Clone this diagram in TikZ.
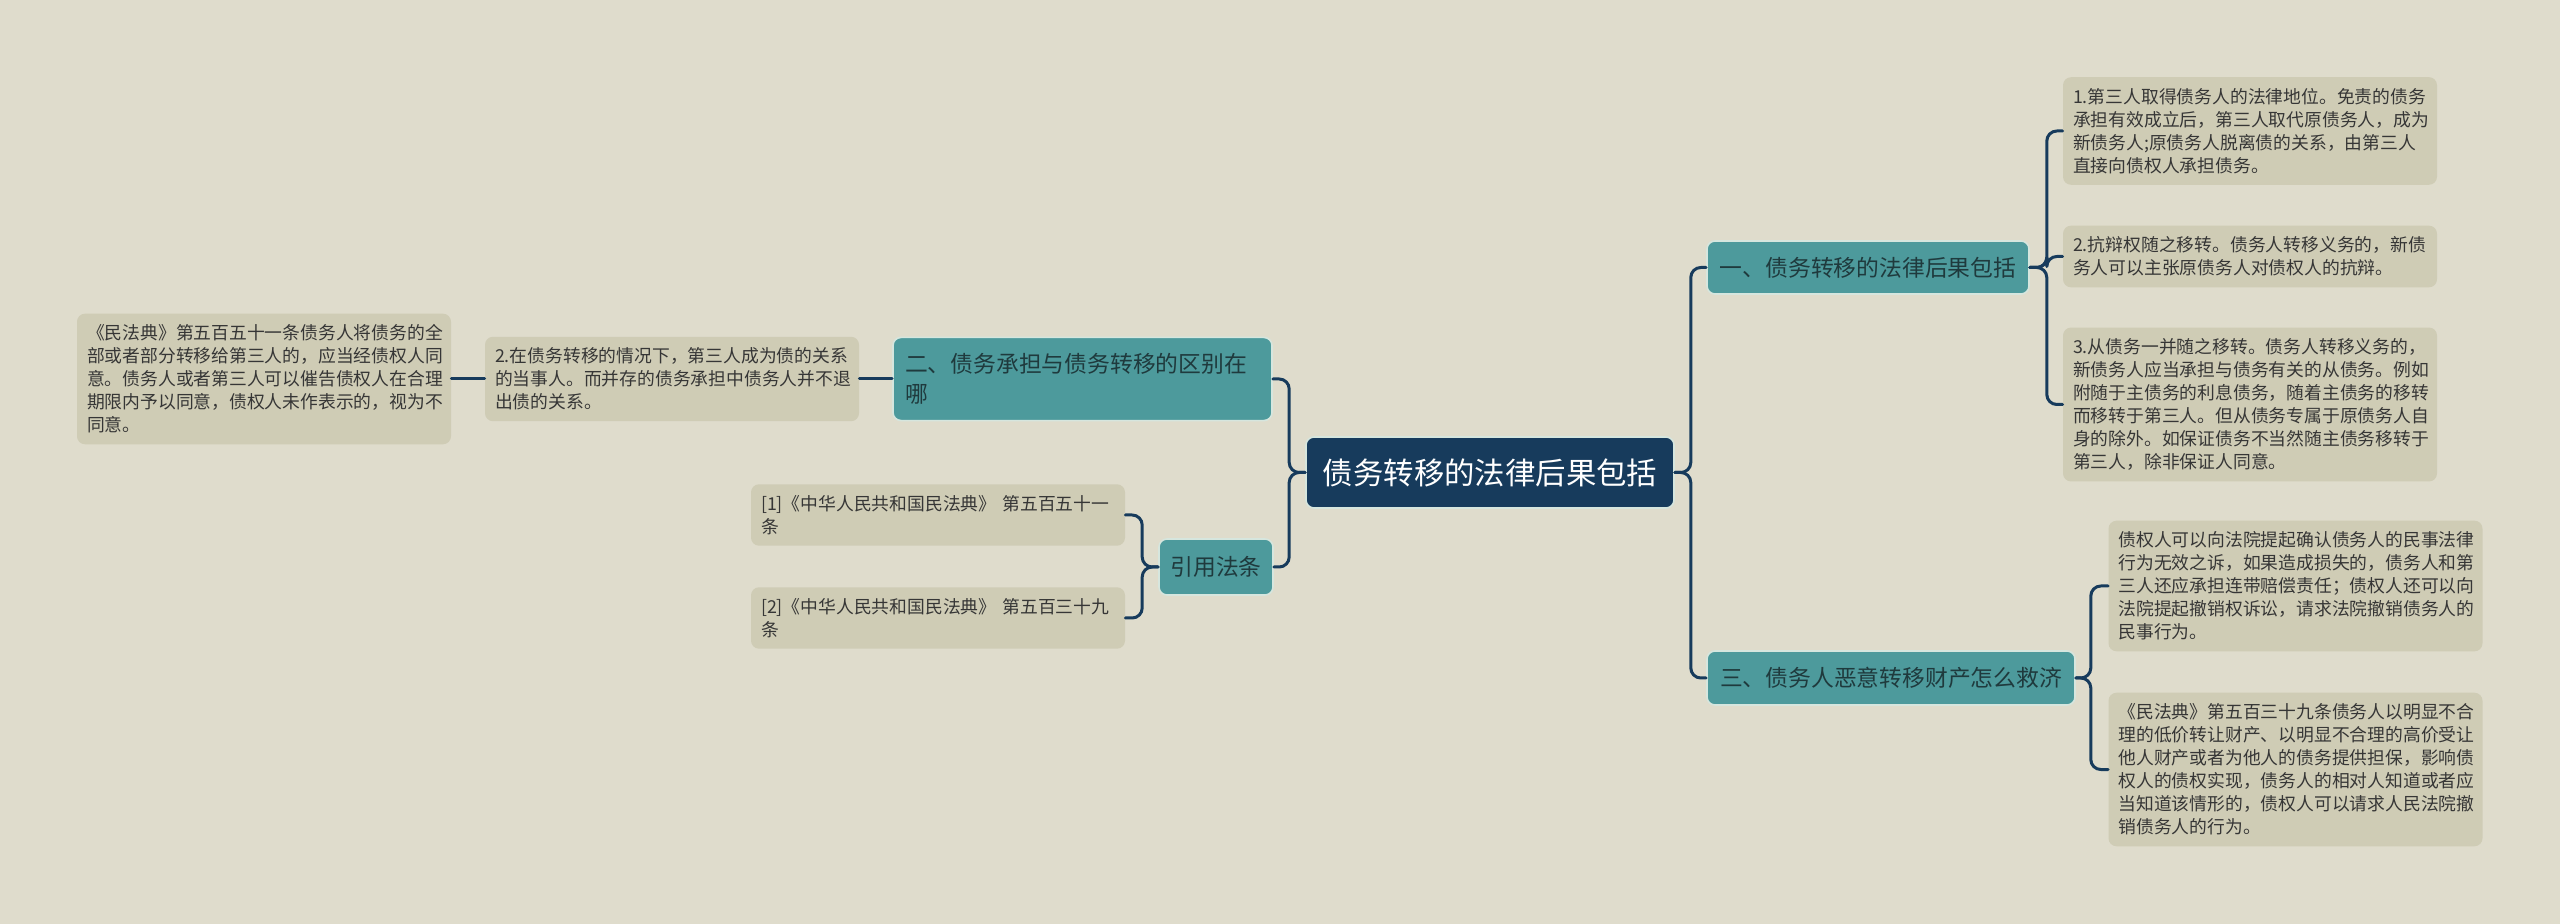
\documentclass[tikz,border=0pt]{standalone}
\usepackage{fontspec}
\setmainfont{Noto Sans CJK SC}
\definecolor{bgc}{HTML}{DFDCCC}
\definecolor{leafc}{HTML}{CFCCB5}
\definecolor{leaftext}{HTML}{363636}
\definecolor{topicc}{HTML}{4D9A9C}
\definecolor{topictext}{HTML}{1F3A3D}
\definecolor{topicline}{HTML}{D6E6DE}
\definecolor{rootc}{HTML}{173B5C}
\definecolor{linkc}{HTML}{173B5C}
\begin{document}
\begin{tikzpicture}[line join=round, line cap=round, x=0.5pt, y=-0.5pt]
	\tikzset{leaf/.style={fill=leafc, rounded corners=4pt, text=leaftext, align=left,
			text width=177pt, inner xsep=5pt, inner ysep=5.5pt,
			font=\fontsize{8.9}{11.5}\selectfont},
		topic/.style={fill=topicc, draw=topicline, line width=0.8pt, rounded corners=4pt,
			text=topictext, inner sep=0pt, font=\fontsize{11.4}{15}\selectfont},
		rootnode/.style={fill=rootc, draw=topicline, line width=0.8pt, rounded corners=4pt,
			text=white, inner sep=0pt, font=\fontsize{15.2}{18}\selectfont},
		link/.style={draw=linkc, line width=1.5pt, rounded corners=5pt}}
	\fill[bgc] (0,0) rectangle (2560,924);
	\useasboundingbox (0,0) rectangle (2560,924);
	\node[rootnode, minimum width=184pt, minimum height=35.5pt] (root) at (1490,472.5) {债务转移的法律后果包括};
	\node[topic, minimum width=161pt, minimum height=26.5pt] (law) at (1868,267.5) {一、债务转移的法律后果包括};
	\node[topic, minimum width=184pt, minimum height=27pt] (remedy) at (1891,678) {三、债务人恶意转移财产怎么救济};
	\node[topic, align=left, text width=177.5pt, inner xsep=6pt, inner ysep=8pt] (diff) at (1082.5,379) {二、债务承担与债务转移的区别在\\哪};
	\node[topic, minimum width=57pt, minimum height=28pt] (cite) at (1216,567) {引用法条};
	\node[leaf] (law1) at (2250,131) {1.第三人取得债务人的法律地位。免责的债务\\承担有效成立后，第三人取代原债务人，成为\\新债务人;原债务人脱离债的关系，由第三人\\直接向债权人承担债务。};
	\node[leaf] (law2) at (2250,256.5) {2.抗辩权随之移转。债务人转移义务的，新债\\务人可以主张原债务人对债权人的抗辩。};
	\node[leaf] (law3) at (2250,404.5) {3.从债务一并随之移转。债务人转移义务的，\\新债务人应当承担与债务有关的从债务。例如\\附随于主债务的利息债务，随着主债务的移转\\而移转于第三人。但从债务专属于原债务人自\\身的除外。如保证债务不当然随主债务移转于\\第三人，除非保证人同意。};
	\node[leaf] (rem1) at (2295.5,586) {债权人可以向法院提起确认债务人的民事法律\\行为无效之诉，如果造成损失的，债务人和第\\三人还应承担连带赔偿责任；债权人还可以向\\法院提起撤销权诉讼，请求法院撤销债务人的\\民事行为。};
	\node[leaf] (rem2) at (2295.5,769.5) {《民法典》第五百三十九条债务人以明显不合\\理的低价转让财产、以明显不合理的高价受让\\他人财产或者为他人的债务提供担保，影响债\\权人的债权实现，债务人的相对人知道或者应\\当知道该情形的，债权人可以请求人民法院撤\\销债务人的行为。};
	\node[leaf] (diff1) at (672,379) {2.在债务转移的情况下，第三人成为债的关系\\的当事人。而并存的债务承担中债务人并不退\\出债的关系。};
	\node[leaf] (diff2) at (264,379) {《民法典》第五百五十一条债务人将债务的全\\部或者部分转移给第三人的，应当经债权人同\\意。债务人或者第三人可以催告债权人在合理\\期限内予以同意，债权人未作表示的，视为不\\同意。};
	\node[leaf] (cite1) at (938,515) {[1]《中华人民共和国民法典》 第五百五十一\\条};
	\node[leaf] (cite2) at (938,618) {[2]《中华人民共和国民法典》 第五百三十九\\条};
	\draw[link] (root.east) -- ++(16,0) |- (law.west);
	\draw[link] (root.east) -- ++(16,0) |- (remedy.west);
	\draw[link] (root.west) -- ++(-16,0) |- (diff.east);
	\draw[link] (root.west) -- ++(-16,0) |- (cite.east);
	\draw[link] (law.east) -- ++(17,0) |- (law1.west);
	\draw[link] (law.east) -- ++(17,0) |- (law2.west);
	\draw[link] (law.east) -- ++(17,0) |- (law3.west);
	\draw[link] (remedy.east) -- ++(15,0) |- (rem1.west);
	\draw[link] (remedy.east) -- ++(15,0) |- (rem2.west);
	\draw[link] (diff.west) -- (diff1.east);
	\draw[link] (diff1.west) -- (diff2.east);
	\draw[link] (cite.west) -- ++(-16,0) |- (cite1.east);
	\draw[link] (cite.west) -- ++(-16,0) |- (cite2.east);
\end{tikzpicture}
\end{document}
